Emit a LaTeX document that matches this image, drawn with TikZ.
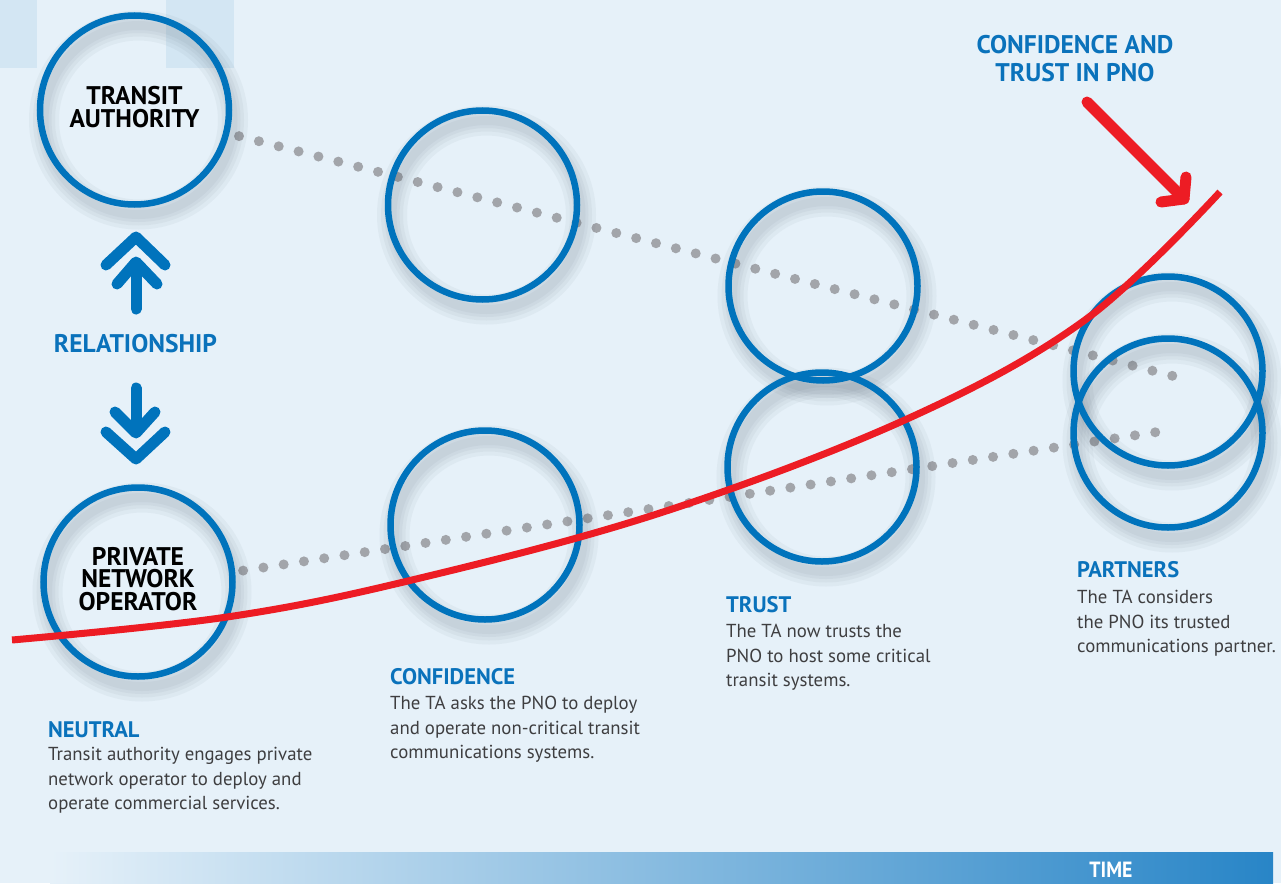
\documentclass[tikz,border=0pt]{standalone}
\usepackage{fontspec}
\setmainfont{PT Sans}
\usetikzlibrary{calc}

\definecolor{bg}{RGB}{230,241,249}
\definecolor{tile}{RGB}{211,230,243}
\definecolor{ringblue}{RGB}{0,115,188}
\definecolor{headblue}{RGB}{10,114,187}
\definecolor{dotgray}{RGB}{162,165,170}
\definecolor{curvered}{RGB}{237,28,36}
\definecolor{bodygray}{RGB}{62,62,64}
\definecolor{barblue}{RGB}{40,133,199}
\definecolor{shadecol}{RGB}{70,85,100}

\pgfdeclarelayer{back}
\pgfdeclarelayer{dotsl}
\pgfdeclarelayer{shade}
\pgfdeclarelayer{front}
\pgfsetlayers{back,dotsl,shade,main,front}

% blurred ring shadow, dropped down and to the right
\newcommand\ringshade[1]{%
  \foreach \w in {30,22,15,9}{%
    \draw[shadecol, opacity=0.05, line width=\w pt] ($(#1)+(4,10)$) circle[radius=94.5pt];}}

\begin{document}
\begin{tikzpicture}[x=1pt,y=-1pt,
  ring/.style={circle, draw=ringblue, line width=6.5pt, minimum size=189pt, inner sep=0pt},
  partytext/.style={align=center, text=black, inner sep=0pt,
    font=\fontsize{25.5}{22.8}\selectfont\bfseries},
  dotline/.style={dotgray, line width=10pt, line cap=round,
    dash pattern=on 0pt off 20.5pt},
  heading/.style={anchor=base west, inner sep=0pt, text=headblue,
    font=\fontsize{22.5}{24}\selectfont\bfseries},
  body/.style={anchor=base west, inner sep=0pt, align=left, text=bodygray,
    font=\fontsize{18.8}{24.5}\selectfont},
  chevron/.style={ringblue, line width=11pt, line cap=round, line join=round},
  redline/.style={curvered, line width=7pt},
  redarrow/.style={curvered, line width=11pt, line cap=round, line join=round}
]
\useasboundingbox (0,0) rectangle (1281,883);

% backdrop, corner tiles and the time bar
\begin{pgfonlayer}{back}
  \fill[bg] (0,0) rectangle (1281,883);
  \fill[tile] (0,0) rectangle (37,68);
  \fill[tile] (166,0) rectangle (234,68);
  \shade[left color=bg, right color=barblue] (50,852) rectangle (1273,883);
\end{pgfonlayer}
\node[text=white, font=\fontsize{22}{22}\selectfont\bfseries] (time) at (1111,870) {\scalebox{0.9}[1]{TIME}};

% the two parties
\node[ring] (ta) at (134.5,110) {};
\node[ring] (pno) at (138,582) {};
\node[partytext] (taText) at ($(ta.center)+(0,-3)$) {TRANSIT\\AUTHORITY};
\node[partytext] (pnoText) at ($(pno.center)+(0,-3)$) {PRIVATE\\NETWORK\\OPERATOR};

% stage rings
\node[ring] (c1) at (482.5,205) {};
\node[ring] (c2) at (485,525) {};
\node[ring] (t1) at (823,286) {};
\node[ring] (t2) at (822,467) {};
\node[ring] (p1) at (1168,371) {};
\node[ring] (p2) at (1168,433) {};

% soft shadows under the rings
\begin{pgfonlayer}{shade}
  \foreach \r in {ta,pno,c1,c2,t1,t2,p1,p2}{\ringshade{\r}}
\end{pgfonlayer}

% dotted paths of the two parties
\coordinate (upEnd) at (1173,376);
\coordinate (lowEnd) at (1157,432);
\begin{pgfonlayer}{dotsl}
  \draw[dotline, shorten <=10pt] (ta.-14.4) -- (upEnd);
  \draw[dotline, shorten <=8pt] (pno.6) -- (lowEnd);
\end{pgfonlayer}

% relationship arrows
\node[text=headblue, font=\fontsize{25.5}{26}\selectfont\bfseries] (rel) at (135.5,344) {RELATIONSHIP};
\coordinate (upTip) at (136,237);
\draw[chevron] (106,265) -- (upTip) -- (165,265);
\draw[chevron] (117,284) -- (136,262) -- (157,284);
\draw[chevron] (136,264) -- (136,309);
\coordinate (downTip) at (136,459);
\draw[chevron] (106,432) -- (downTip) -- (165,432);
\draw[chevron] (115,412) -- (136,433) -- (155,412);
\draw[chevron] (136,388) -- (136,431);

% growth of confidence and trust
\begin{pgfonlayer}{front}
  \draw[redline] plot[smooth, tension=0.6] coordinates
    {(12,640) (227,617) (412,580) (660,513) (907,419) (1085,320) (1220,192)};
  \coordinate (arrTail) at (1087,102);
  \coordinate (arrTip) at (1184,199);
  \draw[redarrow] (arrTail) -- (arrTip);
  \draw[redarrow] (1186,177) -- (arrTip) -- (1161,202);
\end{pgfonlayer}
\node[text=headblue, align=center, font=\fontsize{25.5}{28}\selectfont\bfseries] (conf) at (1075,59) {CONFIDENCE AND\\TRUST IN PNO};

% stage captions (body nodes sit on the baseline of their last line)
\node[heading] (hN) at (48,737.5) {NEUTRAL};
\node[body] (bN) at (48,809.5) {Transit authority engages private\\network operator to deploy and\\operate commercial services.};
\node[heading] (hC) at (390,684.5) {CONFIDENCE};
\node[body] (bC) at (390,758.5) {The TA asks the PNO to deploy\\and operate non-critical transit\\communications systems.};
\node[heading] (hT) at (726,612.5) {TRUST};
\node[body] (bT) at (726,686.5) {The TA now trusts the\\PNO to host some critical\\transit systems.};
\node[heading] (hP) at (1077,577.5) {PARTNERS};
\node[body] (bP) at (1077,652.5) {The TA considers\\the PNO its trusted\\communications partner.};
\end{tikzpicture}
\end{document}
